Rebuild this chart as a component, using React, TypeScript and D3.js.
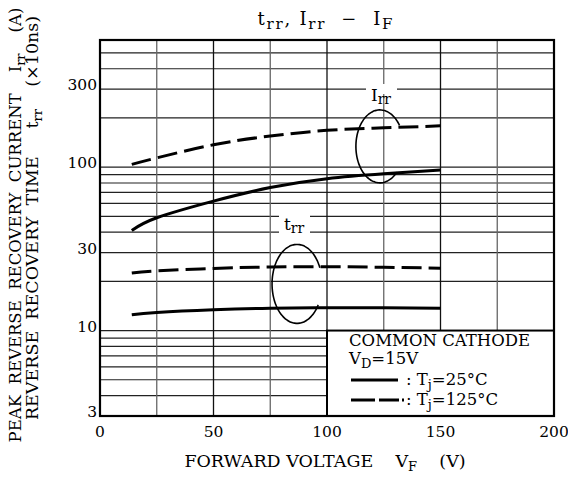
import React from "react";
import * as d3 from "d3";

// forward voltage points
const vf = [14, 25, 50, 75, 100, 125, 150];
const irr25 = [41, 49, 62, 75, 85, 91, 96];
const irr125 = [104, 114, 137, 155, 168, 174, 179];
const trr25 = [12.5, 12.9, 13.4, 13.7, 13.8, 13.8, 13.7];
const trr125 = [22.5, 23.2, 24, 24.5, 24.6, 24.4, 24.1];

const xTicks = [0, 50, 100, 150, 200];
const xGrid = [25, 50, 75, 100, 125, 150, 175];
const yTicks = [3, 10, 30, 100, 300];

const FONT = "'DejaVu Serif', serif";

const App = () => {
  const W = 568;
  const H = 480;
  const x = d3.scaleLinear().domain([0, 200]).range([100, 554]);
  const y = d3.scaleLog().domain([3, 600]).range([416, 40]);

  const line = d3
    .line<number>()
    .x((_, i) => x(vf[i]))
    .y((d) => y(d))
    .curve(d3.curveNatural);

  // hand drawn loops round the curve pairs
  const loop = (cx: number, cy: number, rx: number, ry: number, a0: number, a1: number) => {
    const px = x(cx);
    const py = y(cy);
    const angles = d3.range(a0, a1 + 1, 4).map((a) => (a * Math.PI) / 180);
    return d3
      .line<number>()
      .x((a) => px + rx * Math.cos(a))
      .y((a) => py + ry * Math.sin(a))
      .curve(d3.curveBasis)(angles);
  };

  const hGrid = y.ticks().filter((v) => v > 3 && v < 600);

  return (
    <svg
      width={W}
      height={H}
      style={{ position: "absolute", left: 0, top: 0, background: "#fff" }}
      fontFamily={FONT}
    >
      {/* title */}
      <text x={325} y={25} textAnchor="middle" fontSize={18} textLength={135} lengthAdjust="spacing" style={{ whiteSpace: "pre" }}>
        <tspan>t</tspan>
        <tspan fontSize={15} dy={4}>rr</tspan>
        <tspan dy={-4}>, I</tspan>
        <tspan fontSize={15} dy={4}>rr</tspan>
        <tspan dy={-4}>{"  −  I"}</tspan>
        <tspan fontSize={15} dy={4}>F</tspan>
      </text>

      {/* grid */}
      {hGrid.map((v) => (
        <line key={"h" + v} x1={x(0)} x2={x(200)} y1={y(v)} y2={y(v)} stroke="#222" strokeWidth={1.2} />
      ))}
      {xGrid.map((v) => (
        <line
          key={"v" + v}
          x1={x(v)}
          x2={x(v)}
          y1={y(3)}
          y2={y(600)}
          stroke={v % 50 === 0 ? "#111" : "#666"}
          strokeWidth={1.3}
        />
      ))}

      {/* curves */}
      <g fill="none" stroke="#000" strokeWidth={3}>
        <path d={line(irr25) || ""} />
        <path d={line(irr125) || ""} strokeDasharray="20 7" />
        <path d={line(trr25) || ""} />
        <path d={line(trr125) || ""} strokeDasharray="20 7" />
      </g>

      {/* annotations */}
      <rect x={366} y={84} width={31} height={10} fill="#fff" />
      <text x={381} y={101} textAnchor="middle" fontSize={17}>
        <tspan>I</tspan>
        <tspan fontSize={14} dy={3}>rr</tspan>
      </text>
      <path d={loop(123.3, 134, 24, 36.5, 45, 328) || ""} fill="none" stroke="#000" strokeWidth={1.6} />

      <rect x={279} y={213} width={31} height={22} fill="#fff" />
      <text x={294} y={230} textAnchor="middle" fontSize={17}>
        <tspan>t</tspan>
        <tspan fontSize={14} dy={3}>rr</tspan>
      </text>
      <path d={loop(86.8, 19.3, 25, 39.5, 32, 336) || ""} fill="none" stroke="#000" strokeWidth={1.6} />

      {/* legend box */}
      <rect x={x(100)} y={y(10)} width={x(200) - x(100)} height={y(3) - y(10)} fill="#fff" stroke="#000" strokeWidth={2} />
      <text x={349} y={346} fontSize={16.5}>COMMON CATHODE</text>
      <text x={349} y={364} fontSize={16.5}>
        <tspan>V</tspan>
        <tspan fontSize={13} dy={4}>D</tspan>
        <tspan dy={-4}>=15V</tspan>
      </text>
      <line x1={351} x2={398} y1={380} y2={380} stroke="#000" strokeWidth={3} />
      <text x={406} y={385} fontSize={16.5} style={{ whiteSpace: "pre" }}>
        <tspan>{": T"}</tspan>
        <tspan fontSize={13} dy={4}>j</tspan>
        <tspan dy={-4}>=25°C</tspan>
      </text>
      <line x1={351} x2={404} y1={400} y2={400} stroke="#000" strokeWidth={3} strokeDasharray="24 4 20 3 2 20" />
      <text x={406} y={405} fontSize={16.5} style={{ whiteSpace: "pre" }}>
        <tspan>{": T"}</tspan>
        <tspan fontSize={13} dy={4}>j</tspan>
        <tspan dy={-4}>=125°C</tspan>
      </text>

      {/* frame */}
      <rect x={x(0)} y={y(600)} width={x(200) - x(0)} height={y(3) - y(600)} fill="none" stroke="#000" strokeWidth={2.2} />

      {/* tick labels */}
      {yTicks.map((v) => (
        <text key={"yt" + v} x={97} y={y(v) + 1} textAnchor="end" fontSize={15.5}>
          {v}
        </text>
      ))}
      {xTicks.map((v) => (
        <text key={"xt" + v} x={x(v)} y={437} textAnchor="middle" fontSize={15.5}>
          {v}
        </text>
      ))}

      {/* axis titles */}
      <text x={325} y={467} textAnchor="middle" fontSize={17.5} style={{ whiteSpace: "pre" }}>
        <tspan>{"FORWARD VOLTAGE    V"}</tspan>
        <tspan fontSize={13} dy={4}>F</tspan>
        <tspan dy={-4}>{"    (V)"}</tspan>
      </text>
      <text transform="translate(21,225) rotate(-90)" textAnchor="middle" fontSize={16.5} style={{ whiteSpace: "pre" }}>
        <tspan>{"PEAK  REVERSE  RECOVERY  CURRENT    I"}</tspan>
        <tspan fontSize={13} dy={4}>rr</tspan>
        <tspan dy={-4}>{"    (A)"}</tspan>
      </text>
      <text transform="translate(38,218) rotate(-90)" textAnchor="middle" fontSize={17.5} style={{ whiteSpace: "pre" }}>
        <tspan>{"REVERSE  RECOVERY  TIME     t"}</tspan>
        <tspan fontSize={13} dy={4}>rr</tspan>
        <tspan dy={-4}>{"    (×10ns)"}</tspan>
      </text>
    </svg>
  );
};

export default App;
